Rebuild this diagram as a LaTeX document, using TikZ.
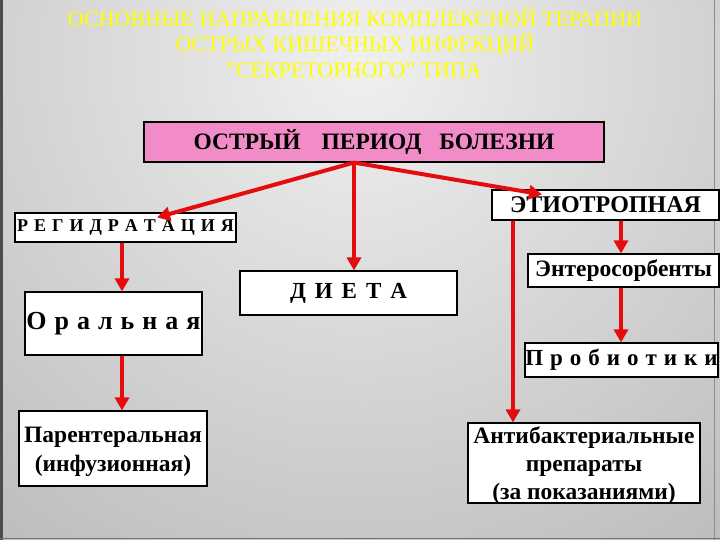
\documentclass[tikz,border=0pt]{standalone}
\usepackage{fontspec}
\setmainfont{Liberation Serif}
\usetikzlibrary{arrows.meta}
\definecolor{pinkbox}{RGB}{242,140,200}
\definecolor{arrred}{RGB}{228,12,12}
\definecolor{titley}{RGB}{255,255,0}
\definecolor{bginner}{RGB}{240,240,240}
\definecolor{bgouter}{RGB}{155,155,155}
\newcommand\wordgap[1]{\spaceskip=#1\relax}
\newcommand\lowered[2]{\raisebox{#1}[\dimexpr\height-5pt\relax][\dimexpr\depth-5pt\relax]{\begin{tabular}{@{}c@{}}#2\end{tabular}}}
\begin{document}
\begin{tikzpicture}[x=1pt,y=-1pt,
  box/.style={draw=black,line width=1.1pt,fill=white,inner sep=0pt,align=center,font=\bfseries},
  arr/.style={draw=arrred,line width=4pt,-{Triangle[length=13pt,width=14pt]}},
  ttl/.style={text=titley,font=\fontsize{22}{26}\selectfont,inner sep=0pt}]
\useasboundingbox (0,0) rectangle (720,540);
\begin{scope}
  \clip (0,0) rectangle (720,540);
  \shade[inner color=bginner,outer color=bgouter] (360,60) circle (1000);
  \fill[black!70] (0,0) rectangle (3,540);
  \draw[black!45,line width=0.8pt] (714,0) -- (714,540);
  \draw[black!55,line width=1pt] (0,538) -- (720,538);
\end{scope}
% title
\node[ttl] (t1) at (355,17) {ОСНОВНЫЕ НАПРАВЛЕНИЯ КОМПЛЕКСНОЙ ТЕРАПИИ};
\node[ttl] (t2) at (355,45) {ОСТРЫХ КИШЕЧНЫХ ИНФЕКЦИЙ};
\node[ttl] (t3) at (354,70) {"СЕКРЕТОРНОГО" ТИПА};
% boxes
\node[box,fill=pinkbox,minimum width=460pt,minimum height=40pt,font=\bfseries\fontsize{23.5}{26}\selectfont] (root) at (374,142) {ОСТРЫЙ\hspace{21pt}ПЕРИОД\hspace{18pt}БОЛЕЗНИ};
\node[box,minimum width=221pt,minimum height=29pt,font=\bfseries\fontsize{18}{22}\selectfont] (reg) at (125.5,227.5) {\wordgap{6pt}Р Е Г И Д Р А Т А Ц И Я};
\node[box,minimum width=177pt,minimum height=63pt,font=\bfseries\fontsize{26}{30}\selectfont] (oral) at (113.5,323.5) {\wordgap{8pt}О р а л ь н а я};
\node[box,minimum width=188pt,minimum height=75pt,font=\bfseries\fontsize{23.5}{29}\selectfont] (par) at (113,448.5) {\lowered{-3pt}{Парентеральная\\(инфузионная)}};
\node[box,minimum width=217pt,minimum height=44pt,font=\bfseries\fontsize{23}{26}\selectfont] (diet) at (348.5,293) {\wordgap{9pt}Д И Е Т А};
\node[box,minimum width=227pt,minimum height=30pt,font=\bfseries\fontsize{24}{26}\selectfont] (etio) at (605.5,205) {ЭТИОТРОПНАЯ};
\node[box,minimum width=191pt,minimum height=33pt,font=\bfseries\fontsize{23.5}{26}\selectfont] (ent) at (623.5,270.5) {Энтеросорбенты};
\node[box,minimum width=193pt,minimum height=34pt,font=\bfseries\fontsize{23}{26}\selectfont] (prob) at (621.5,360) {\wordgap{7pt}П р о б и о т и к и};
\node[box,minimum width=232pt,minimum height=80pt,font=\bfseries\fontsize{23.5}{28}\selectfont] (anti) at (584,463) {\lowered{-2.5pt}{Антибактериальные\\препараты\\(за показаниями)}};
% connectors
\coordinate (fork) at ([xshift=-20pt]root.south);
\coordinate (regtip) at ([xshift=31.5pt,yshift=-5pt]reg.north);
\coordinate (etiotip) at ([xshift=-63.5pt,yshift=-5pt]etio.north);
\draw[arr] (fork) -- (regtip);
\draw[arr] (fork) -- (etiotip);
\draw[arr] (fork) -- (fork |- diet.north);
\draw[arr] ([xshift=-3.5pt]reg.south) -- ([xshift=8.5pt]oral.north);
\draw[arr] ([xshift=8.5pt]oral.south) -- ([xshift=9pt]par.north);
\draw[arr] ([xshift=15.5pt]etio.south) -- ([xshift=-2.5pt]ent.north);
\draw[arr] ([xshift=-2.5pt]ent.south) -- ([xshift=-0.5pt]prob.north);
\draw[arr] ([xshift=-92.5pt]etio.south) -- ([xshift=-71pt]anti.north);
\end{tikzpicture}
\end{document}
